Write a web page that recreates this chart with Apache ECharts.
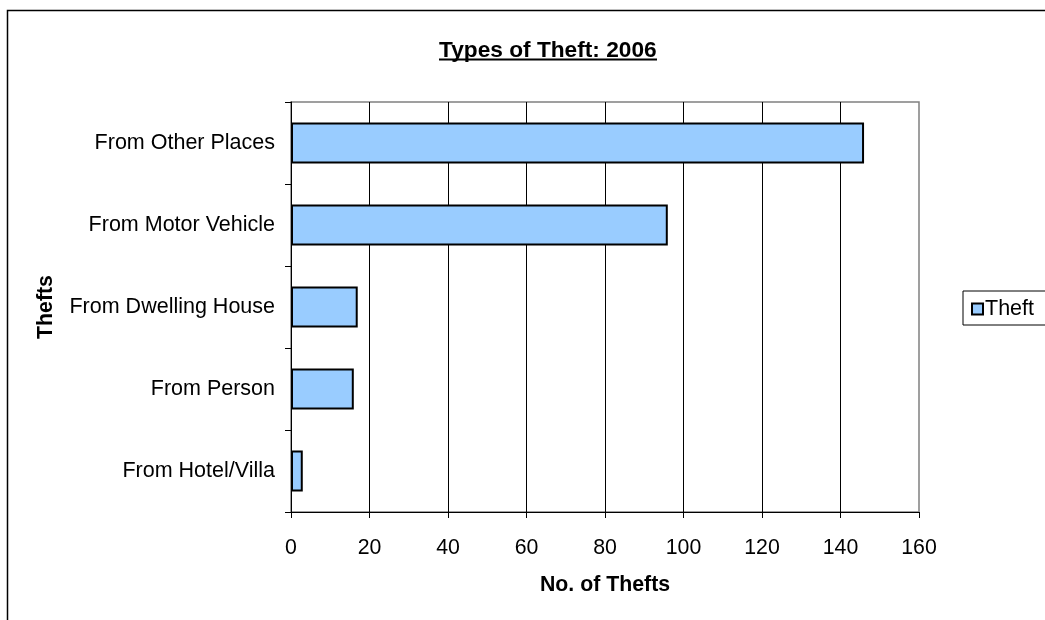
<!DOCTYPE html>
<html>
<head>
<meta charset="utf-8">
<script src="https://cdn.jsdelivr.net/npm/echarts@6/dist/echarts.min.js"></script>
<style>html,body{margin:0;padding:0;background:#fff;}#c{width:1045px;height:620px;}</style>
</head>
<body>
<div id="c"></div>
<script>
const categories = ['From Hotel/Villa', 'From Person', 'From Dwelling House', 'From Motor Vehicle', 'From Other Places'];
const theftValues = [3, 16, 17, 96, 146];
const xTicks = [0, 20, 40, 60, 80, 100, 120, 140, 160];
const seriesName = 'Theft';
const titleText = 'Types of Theft: 2006';

const chart = echarts.init(document.getElementById('c'));
const FONT = 'Liberation Sans, Arial, sans-serif';
chart.setOption({
  animation: false,
  backgroundColor: '#fff',
  title: {
    text: titleText,
    left: 434,
    top: 34,
    textStyle: {fontFamily: FONT, fontSize: 22.7, fontWeight: 'bold', color: '#000'}
  },
  legend: {
    data: [seriesName],
    left: 963, top: 291,
    orient: 'vertical',
    icon: 'rect',
    itemWidth: 11, itemHeight: 11, itemGap: 4,
    borderColor: '#000', borderWidth: 1,
    padding: [7, 30, 5, 8],
    textStyle: {fontFamily: FONT, fontSize: 21.5, color: '#000', padding: [0,0,0,-3]}
  },
  grid: {left: 291, right: 126, top: 102, bottom: 108, show: true, borderColor: '#808080', borderWidth: 1.5},
  xAxis: {
    type: 'value', min: xTicks[0], max: xTicks[xTicks.length - 1], interval: 20,
    name: 'No. of Thefts', nameLocation: 'middle', nameGap: 63,
    nameTextStyle: {fontFamily: FONT, fontSize: 21.3, fontWeight: 'bold', color: '#000'},
    axisLine: {show: true, lineStyle: {color: '#000', width: 1}},
    axisTick: {show: true, length: 6, lineStyle: {color: '#000'}},
    axisLabel: {margin: 26, fontFamily: FONT, fontSize: 21.3, color: '#000'},
    splitLine: {show: true, showMinLine: false, showMaxLine: false, lineStyle: {color: '#000', width: 1}}
  },
  yAxis: {
    type: 'category', data: categories,
    name: 'Thefts', nameLocation: 'middle', nameGap: 234, nameRotate: 90,
    nameTextStyle: {fontFamily: FONT, fontSize: 21.3, fontWeight: 'bold', color: '#000'},
    axisLine: {show: true, lineStyle: {color: '#000', width: 1}},
    axisTick: {show: true, length: 6, lineStyle: {color: '#000'}},
    axisLabel: {margin: 16, fontFamily: FONT, fontSize: 21.5, color: '#000'}
  },
  series: [{
    name: seriesName, type: 'bar', data: theftValues, barWidth: '50%',
    itemStyle: {color: '#99ccff', borderColor: '#000', borderWidth: 2}
  }],
  graphic: [
    {type: 'rect', shape: {x: 7.5, y: 10.5, width: 1100, height: 700}, style: {fill: 'none', stroke: '#000', lineWidth: 1.5}, silent: true},
    {type: 'line', shape: {x1: 439, y1: 59.5, x2: 657, y2: 59.5}, style: {stroke: '#000', lineWidth: 2}, silent: true}
  ]
});
</script>
</body>
</html>
